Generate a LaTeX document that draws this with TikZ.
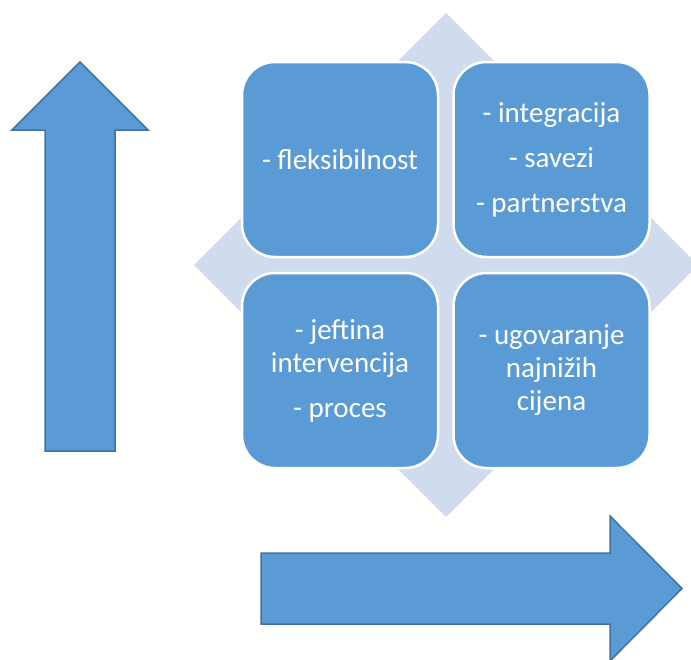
\documentclass[tikz,border=0pt]{standalone}
\usepackage{fontspec}
\setmainfont{Carlito}
\definecolor{boxblue}{RGB}{91,155,213}
\definecolor{arrowline}{RGB}{65,113,156}
\definecolor{diamondfill}{RGB}{208,220,238}
\begin{document}
\begin{tikzpicture}[x=1pt,y=-1pt,
  quad/.style={draw=white, line width=2.5pt, fill=boxblue, rounded corners=33pt,
    minimum width=196pt, minimum height=195pt, inner sep=0pt},
  quadtext/.style={text=white, align=center, font=\fontsize{29}{33}\selectfont},
  bigarrow/.style={draw=arrowline, line width=1.5pt, fill=boxblue, line join=miter}]
\useasboundingbox (0,0) rectangle (691,659);
\clip (0,0) rectangle (691,659);
% background diamond
\fill[diamondfill] (446,13) -- (698,265) -- (446,517) -- (194,265) -- cycle;
% four boxes
\node[quad] (tl) at (340,159.5) {};
\node[quad] (tr) at (551.5,159.5) {};
\node[quad] (bl) at (340,370.5) {};
\node[quad] (br) at (551.5,370.5) {};
\node[quadtext] (tlt) at (tl.center) {- fleksibilnost};
\node[quadtext] (trt) at (tr.center) {- integracija\\[12pt]- savezi\\[12pt]- partnerstva};
\node[quadtext] (blt) at (bl.center) {- jeftina\\intervencija\\[12pt]- proces};
\node[quadtext] (brt) at (br.center) {- ugovaranje\\najnižih\\cijena};
% up arrow
\draw[bigarrow] (80,62) -- (148,130) -- (115,130) -- (115,451) -- (45,451) -- (45,130) -- (12,130) -- cycle;
% right arrow
\draw[bigarrow] (261,553) -- (610,553) -- (610,516) -- (682,588.5) -- (610,661) -- (610,624) -- (261,624) -- cycle;
\end{tikzpicture}
\end{document}
